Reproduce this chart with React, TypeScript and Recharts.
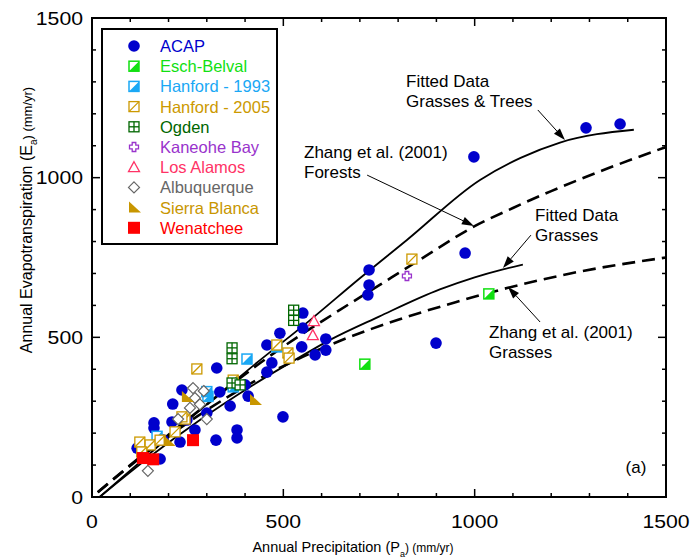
import React from 'react';
import { ComposedChart, Line, Scatter, XAxis, YAxis } from 'recharts';

// plot frame in page pixels
const W = 699;
const H = 560;
const LEFT = 92;
const RIGHT = 666;
const TOP = 18;
const BOTTOM = 497;
const MAX = 1500;
const FONT = '"Liberation Sans", Arial, sans-serif';

const axisTicks = [0, 100, 200, 300, 400, 500, 600, 700, 800, 900, 1000, 1100, 1200, 1300, 1400, 1500];

// [P, E] pairs, mm/yr
const acap = [
  [998, 1065], [1291, 1156], [1380, 1168], [975, 764], [899, 482], [724, 711], [724, 664], [721, 633],
  [551, 576], [551, 529], [611, 495], [611, 460], [583, 445], [548, 470], [491, 513], [457, 476],
  [470, 420], [457, 391], [400, 351], [408, 316], [361, 285], [334, 329], [326, 404], [499, 251],
  [379, 210], [379, 185], [324, 178], [235, 335], [211, 291], [162, 232], [162, 216], [209, 235],
  [269, 210], [186, 178], [118, 153], [178, 119], [230, 172], [300, 263], [248, 241],
];
const eschBelval = [[1037, 636], [713, 416]];
const hanford1993 = [[483, 470], [405, 432], [369, 345], [303, 315], [300, 330], [170, 190]];
const hanford2005 = [
  [836, 745], [512, 451], [483, 476], [515, 435], [274, 401], [369, 366], [125, 172], [152, 163],
  [130, 141], [178, 178], [217, 204], [243, 244], [235, 251],
];
const ogden = [[527, 585], [527, 553], [366, 467], [366, 433], [366, 357], [387, 351]];
const kaneohe = [[823, 692]];
const losAlamos = [[580, 551], [577, 507]];
const albuquerque = [[264, 341], [292, 332], [269, 310], [256, 279], [300, 244], [225, 244], [146, 82], [282, 290]];
const sierraBlanca = [[426, 304], [248, 313], [200, 175]];
const wenatchee = [[264, 178], [133, 122], [160, 118]];

const fitTrees = [[20, 0], [150, 135], [282, 272], [420, 410], [570, 554], [700, 685], [823, 805], [1014, 993], [1120, 1062], [1223, 1110], [1416, 1150]];
const fitGrasses = [[20, 0], [150, 125], [282, 241], [420, 350], [543, 438], [622, 492], [750, 565], [909, 650], [1000, 688], [1074, 713], [1126, 728]];
const zhangForests = [[15, 15], [100, 100], [200, 195], [300, 290], [434, 415], [536, 500], [627, 570], [753, 665], [850, 738], [1000, 848], [1100, 905], [1200, 958], [1350, 1030], [1500, 1096]];
const zhangGrasses = [[15, 15], [100, 98], [200, 190], [350, 310], [500, 410], [650, 490], [800, 555], [950, 610], [1087, 655], [1250, 700], [1500, 750]];

const toRows = (a: number[][]) => a.map(([x, y]) => ({ x, y }));

const px = (p: number) => LEFT + (p / MAX) * (RIGHT - LEFT);
const py = (e: number) => BOTTOM - (e / MAX) * (BOTTOM - TOP);

type Kind = 'acap' | 'esch' | 'h93' | 'h05' | 'ogden' | 'kaneohe' | 'losalamos' | 'albuq' | 'sierra' | 'wen';

const series: { name: string; kind: Kind; color: string; data: number[][] }[] = [
  { name: 'ACAP', kind: 'acap', color: '#0000CC', data: acap },
  { name: 'Esch-Belval', kind: 'esch', color: '#11E011', data: eschBelval },
  { name: 'Hanford - 1993', kind: 'h93', color: '#1AA8F5', data: hanford1993 },
  { name: 'Hanford - 2005', kind: 'h05', color: '#CC9900', data: hanford2005 },
  { name: 'Ogden', kind: 'ogden', color: '#006600', data: ogden },
  { name: 'Kaneohe Bay', kind: 'kaneohe', color: '#9933CC', data: kaneohe },
  { name: 'Los Alamos', kind: 'losalamos', color: '#FF3366', data: losAlamos },
  { name: 'Albuquerque', kind: 'albuq', color: '#666666', data: albuquerque },
  { name: 'Sierra Blanca', kind: 'sierra', color: '#C89600', data: sierraBlanca },
  { name: 'Wenatchee', kind: 'wen', color: '#FF0000', data: wenatchee },
];

function Marker({ kind, color, cx, cy }: { kind: Kind; color: string; cx: number; cy: number }) {
  const h = 5;
  switch (kind) {
    case 'acap':
      return <circle cx={cx} cy={cy} r={5.8} fill={color} />;
    case 'esch':
    case 'h93':
      return (
        <g>
          <rect x={cx - h} y={cy - h} width={2 * h} height={2 * h} fill="#fff" stroke={color} strokeWidth={1.5} />
          <polygon points={`${cx - h},${cy + h} ${cx + h},${cy - h} ${cx + h},${cy + h}`} fill={color} />
        </g>
      );
    case 'h05':
      return (
        <g>
          <rect x={cx - h} y={cy - h} width={2 * h} height={2 * h} fill="#fff" stroke={color} strokeWidth={1.3} />
          <line x1={cx - h} y1={cy + h} x2={cx + h} y2={cy - h} stroke={color} strokeWidth={1.3} />
        </g>
      );
    case 'ogden':
      return (
        <g stroke={color} strokeWidth={1.3} fill="#fff">
          <rect x={cx - h} y={cy - h} width={2 * h} height={2 * h} />
          <line x1={cx} y1={cy - h} x2={cx} y2={cy + h} />
          <line x1={cx - h} y1={cy} x2={cx + h} y2={cy} />
        </g>
      );
    case 'kaneohe': {
      const a = 1.8;
      const b = 4.5;
      const pts = [
        [-a, -b], [a, -b], [a, -a], [b, -a], [b, a], [a, a], [a, b], [-a, b], [-a, a], [-b, a], [-b, -a], [-a, -a],
      ].map(([x, y]) => `${cx + x},${cy + y}`).join(' ');
      return <polygon points={pts} fill="#fff" stroke={color} strokeWidth={1.3} />;
    }
    case 'losalamos':
      return <polygon points={`${cx},${cy - 5.5} ${cx + 5.5},${cy + 4.5} ${cx - 5.5},${cy + 4.5}`} fill="#fff" stroke={color} strokeWidth={1.3} />;
    case 'albuq':
      return <polygon points={`${cx},${cy - 5.5} ${cx + 5.5},${cy} ${cx},${cy + 5.5} ${cx - 5.5},${cy}`} fill="#fff" stroke={color} strokeWidth={1.2} />;
    case 'sierra':
      return <polygon points={`${cx - 5},${cy - 6} ${cx - 5},${cy + 5} ${cx + 7},${cy + 5}`} fill={color} />;
    case 'wen':
      return <rect x={cx - 6} y={cy - 6} width={12} height={12} fill={color} />;
  }
  return null;
}

// digits in the original are drawn wide
const digitWidth = 11.8;

function XTick(props: any) {
  const { x, payload } = props;
  const v = payload.value as number;
  const major = v % 500 === 0;
  const len = major ? 8 : 4;
  const label = String(v);
  return (
    <g>
      <line x1={x} y1={BOTTOM} x2={x} y2={BOTTOM - len} stroke="#000" strokeWidth={1.5} />
      <line x1={x} y1={TOP} x2={x} y2={TOP + len} stroke="#000" strokeWidth={1.5} />
      {major && (
        <text
          x={x - (label.length * digitWidth) / 2}
          y={BOTTOM + 31}
          fontFamily={FONT}
          fontSize={18}
          fill="#000"
          textLength={label.length * digitWidth}
          lengthAdjust="spacingAndGlyphs"
        >
          {label}
        </text>
      )}
    </g>
  );
}

function YTick(props: any) {
  const { y, payload } = props;
  const v = payload.value as number;
  const major = v % 500 === 0;
  const len = major ? 8 : 4;
  const label = String(v);
  return (
    <g>
      <line x1={LEFT} y1={y} x2={LEFT + len} y2={y} stroke="#000" strokeWidth={1.5} />
      <line x1={RIGHT} y1={y} x2={RIGHT - len} y2={y} stroke="#000" strokeWidth={1.5} />
      {major && (
        <text
          x={LEFT - 9 - label.length * digitWidth}
          y={y + 6.5}
          fontFamily={FONT}
          fontSize={18}
          fill="#000"
          textLength={label.length * digitWidth}
          lengthAdjust="spacingAndGlyphs"
        >
          {label}
        </text>
      )}
    </g>
  );
}

function Arrow({ from, to }: { from: number[]; to: number[] }) {
  const x1 = px(from[0]);
  const y1 = py(from[1]);
  const x2 = px(to[0]);
  const y2 = py(to[1]);
  const ang = Math.atan2(y2 - y1, x2 - x1);
  const L = 12;
  const Wd = 4;
  const bx = x2 - L * Math.cos(ang);
  const by = y2 - L * Math.sin(ang);
  const nx = -Math.sin(ang) * Wd;
  const ny = Math.cos(ang) * Wd;
  return (
    <g>
      <line x1={x1} y1={y1} x2={bx} y2={by} stroke="#000" strokeWidth={1} />
      <polygon points={`${x2},${y2} ${bx + nx},${by + ny} ${bx - nx},${by - ny}`} fill="#000" />
    </g>
  );
}

// note texts, pixel placed; arrow ends in data units
const notes = [
  { x: 406, y: 87, lines: ['Fitted Data', 'Grasses & Trees'], from: [1165, 1212], to: [1236, 1118] },
  { x: 304, y: 158, lines: ['Zhang et al. (2001)', 'Forests'], from: [719, 1008], to: [998, 849] },
  { x: 535, y: 221, lines: ['Fitted Data', 'Grasses'], from: [1147, 820], to: [1074, 717] },
  { x: 489, y: 338, lines: ['Zhang et al. (2001)', 'Grasses'], from: [1171, 548], to: [1087, 658] },
];

export default function App() {
  return (
    <div style={{ position: 'absolute', left: 0, top: 0, width: W, height: H, background: '#fff' }}>
      <ComposedChart width={W} height={H} margin={{ top: TOP, right: W - RIGHT, bottom: 23, left: 32 }}>
        <XAxis
          dataKey="x"
          type="number"
          domain={[0, MAX]}
          ticks={axisTicks}
          interval={0}
          allowDataOverflow
          axisLine={false}
          tickLine={false}
          tickSize={0}
          tickMargin={0}
          height={40}
          tick={<XTick />}
        />
        <YAxis
          type="number"
          domain={[0, MAX]}
          ticks={axisTicks}
          interval={0}
          allowDataOverflow
          axisLine={false}
          tickLine={false}
          tickSize={0}
          tickMargin={0}
          width={60}
          tick={<YTick />}
        />
        {series.map((s) => (
          <Scatter
            key={s.name}
            name={s.name}
            data={toRows(s.data)}
            dataKey="y"
            isAnimationActive={false}
            shape={(p: any) => <Marker kind={s.kind} color={s.color} cx={p.cx} cy={p.cy} />}
          />
        ))}
        <Line data={toRows(fitTrees)} dataKey="y" type="monotone" stroke="#000" strokeWidth={1.8} dot={false} activeDot={false} isAnimationActive={false} />
        <Line data={toRows(fitGrasses)} dataKey="y" type="monotone" stroke="#000" strokeWidth={1.8} dot={false} activeDot={false} isAnimationActive={false} />
        <Line data={toRows(zhangForests)} dataKey="y" type="monotone" stroke="#000" strokeWidth={2.6} strokeDasharray="13 7" dot={false} activeDot={false} isAnimationActive={false} />
        <Line data={toRows(zhangGrasses)} dataKey="y" type="monotone" stroke="#000" strokeWidth={2.6} strokeDasharray="13 7" dot={false} activeDot={false} isAnimationActive={false} />
      </ComposedChart>
      <svg width={W} height={H} style={{ position: 'absolute', left: 0, top: 0, pointerEvents: 'none' }}>
        <rect x={LEFT} y={TOP} width={RIGHT - LEFT} height={BOTTOM - TOP} fill="none" stroke="#000" strokeWidth={2} />
        <rect x={102} y={29} width={175} height={215} fill="#fff" stroke="#000" strokeWidth={2} />
        {series.map((s, i) => (
          <g key={s.name}>
            <Marker kind={s.kind} color={s.color} cx={134} cy={46 + i * 20.2} />
            <text x={160} y={46 + i * 20.2 + 6} fontFamily={FONT} fontSize={16.5} fill={s.color}>
              {s.name}
            </text>
          </g>
        ))}
        {notes.map((n, i) => (
          <g key={i}>
            {n.lines.map((t, j) => (
              <text key={j} x={n.x} y={n.y + j * 20} fontFamily={FONT} fontSize={17} fill="#000">
                {t}
              </text>
            ))}
            <Arrow from={n.from} to={n.to} />
          </g>
        ))}
        <text x={636} y={473} textAnchor="middle" fontFamily={FONT} fontSize={17} fill="#000">(a)</text>
        <text x={353} y={552} textAnchor="middle" fontFamily={FONT} fill="#000">
          <tspan fontSize={14.5}>Annual Precipitation (P</tspan>
          <tspan fontSize={9} dy={5}>a</tspan>
          <tspan fontSize={12} dy={-5}>) (mm/yr)</tspan>
        </text>
        <text transform="translate(32,220) rotate(-90)" textAnchor="middle" fontFamily={FONT} fill="#000">
          <tspan fontSize={16}>Annual Evapotranspiration (E</tspan>
          <tspan fontSize={10} dy={5}>a</tspan>
          <tspan fontSize={13} dy={-5}>) (mm/yr)</tspan>
        </text>
      </svg>
    </div>
  );
}
